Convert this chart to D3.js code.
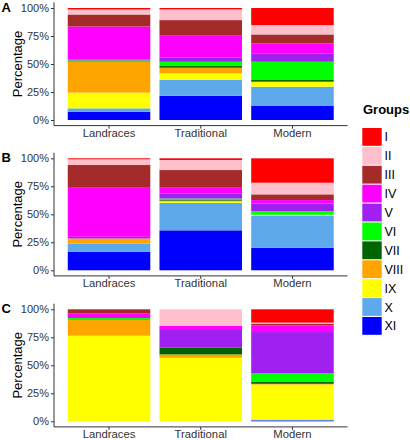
<!DOCTYPE html>
<html><head><meta charset="utf-8">
<script src="https://cdn.jsdelivr.net/npm/d3@7"></script>
<style>
html,body{margin:0;padding:0;background:#fff;}
svg{display:block;font-family:"Liberation Sans",Arial,sans-serif;}
</style></head>
<body><svg id="c" width="410" height="440"></svg>
<script>
const groups = ["I","II","III","IV","V","VI","VII","VIII","IX","X","XI"];
const groupColors = ["#FF0000","#FFC0CB","#A52A2A","#FF00FF","#A020F0","#00FF00","#006400","#FFA500","#FFFF00","#5EA9EB","#0000FF"];
const categories = ["Landraces","Traditional","Modern"];
const panelLabels = ["A","B","C"];
const yTickValues = [0, 0.25, 0.5, 0.75, 1];
const yTickLabels = ["0%","25%","50%","75%","100%"];

// values per group I..XI (percent)
const aLandraces   = [1.3, 4.5, 10.7, 29.7, 0.5, 0.9, 0.4, 27.6, 14.0, 3.0, 7.4];
const aTraditional = [1.2, 9.6, 13.4, 19.9, 3.9, 3.8, 1.5, 5.0, 6.0, 14.0, 21.7];
const aModern      = [15.3, 8.3, 8.0, 8.9, 7.5, 16.3, 1.5, 0.0, 4.5, 17.2, 12.5];
const bLandraces   = [0.9, 5.1, 20.3, 43.8, 1.5, 0, 0, 4.5, 0, 7.5, 16.4];
const bTraditional = [1.5, 9.0, 15.8, 5.1, 4.5, 1.3, 0.6, 0.8, 1.2, 24.5, 35.7];
const bModern      = [21.8, 10.4, 5.1, 3.0, 6.9, 3.2, 0, 0, 1.0, 28.6, 20.0];
const cLandraces   = [0, 0, 3.8, 4.0, 0, 1.8, 0, 14.0, 76.4, 0, 0];
const cTraditional = [0, 14.9, 0, 3.6, 15.8, 0, 6.0, 3.0, 56.7, 0, 0];
const cModern      = [11.9, 1.2, 1.2, 6.0, 36.7, 7.5, 2.0, 0.7, 31.3, 0.7, 0.8];

const panelData = [
  [aLandraces, aTraditional, aModern],
  [bLandraces, bTraditional, bModern],
  [cLandraces, cTraditional, cModern]
];
// layout
const panelTops = [8, 158.3, 309.3];   // y of 100%
const panelH = 112;                    // 0%..100% height
const xLeft = 54, xRight = 347.5;

const svg = d3.select("#c");
const color = d3.scaleOrdinal().domain(groups).range(groupColors);
const x = d3.scaleBand().domain(categories).range([xLeft, xRight]).paddingInner(0.1).paddingOuter(0.15);

panelData.forEach((pd, pi) => {
  const top = panelTops[pi];
  const y = d3.scaleLinear().domain([0,1]).range([top + panelH, top]);
  const exp = panelH * 0.05;
  const g = svg.append("g");
  const rows = categories.map((c, ci) => {
    const r = {cat: c};
    groups.forEach((gname, gi) => r[gname] = pd[ci][gi]);
    return r;
  });
  // stack: I at top, XI at bottom
  const stack = d3.stack().keys(groups.slice().reverse()).offset(d3.stackOffsetExpand);
  const series = stack(rows);
  g.selectAll("g.s").data(series).join("g").attr("fill", d => color(d.key))
    .selectAll("rect").data(d => d).join("rect")
    .attr("x", d => x(d.data.cat))
    .attr("width", x.bandwidth())
    .attr("y", d => y(d[1]))
    .attr("height", d => Math.max(0, y(d[0]) - y(d[1])));

  // y axis
  const yAxis = d3.axisLeft(y).tickValues(yTickValues).tickFormat((d,i) => yTickLabels[i]).tickSize(3).tickPadding(2);
  const ya = g.append("g").attr("transform", `translate(${xLeft},0)`).call(yAxis);
  ya.select(".domain").remove();
  ya.selectAll("text").attr("fill","#333").style("font-size","11px");
  ya.selectAll("line").attr("stroke","#333");
  g.append("line").attr("x1", xLeft).attr("x2", xLeft)
    .attr("y1", top - exp).attr("y2", top + panelH + exp)
    .attr("stroke","#333").attr("stroke-width",1);
  // x axis
  const xAxis = d3.axisBottom(x).tickSize(3).tickPadding(0.5);
  const xa = g.append("g").attr("transform", `translate(0,${top + panelH + exp})`).call(xAxis);
  xa.select(".domain").remove();
  xa.selectAll("text").attr("fill","#333").style("font-size","11.3px");
  xa.selectAll("line").attr("stroke","#333");
  g.append("line").attr("x1", xLeft).attr("x2", xRight)
    .attr("y1", top + panelH + exp).attr("y2", top + panelH + exp)
    .attr("stroke","#333").attr("stroke-width",1);
  // y title
  g.append("text").attr("transform", `translate(21.5,${top + panelH/2}) rotate(-90)`)
    .attr("text-anchor","middle").style("font-size","13px").attr("fill","#000").text("Percentage");
  // panel label
  g.append("text").attr("x", 1.5).attr("y", top + 3.5).style("font-size","13px").style("font-weight","bold")
    .attr("fill","#000").text(panelLabels[pi]);
});

// legend
const lg = svg.append("g");
lg.append("text").attr("x", 363).attr("y", 114).style("font-size","13px").style("font-weight","bold").text("Groups");
const keyTop = 128, keyStep = 18.9, keyW = 19.4, keyH = 17.8;
groups.forEach((gname, i) => {
  lg.append("rect").attr("x", 362.3).attr("y", keyTop + i*keyStep).attr("width", keyW).attr("height", keyH).attr("fill", color(gname));
  lg.append("text").attr("x", 384.5).attr("y", keyTop + i*keyStep + keyH/2).attr("dy","0.36em")
    .style("font-size","12.5px").attr("fill","#000").text(gname);
});
</script>
</body></html>
